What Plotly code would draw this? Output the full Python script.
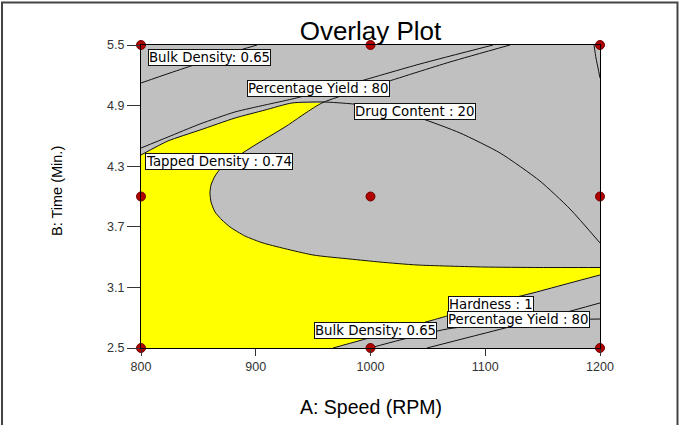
import plotly.graph_objects as go

# ---------------- data (A: Speed RPM, B: Time min) ----------------
design_A = [800, 800, 800, 1000, 1000, 1000, 1200, 1200, 1200]
design_B = [2.5, 4.0, 5.5, 2.5, 4.0, 5.5, 2.5, 4.0, 5.5]

# Drug Content : 20
dc_A = [800, 823.5, 851.4, 881.9, 908.1, 931.6, 958.6, 984.7, 1012.6, 1043.1, 1078.0, 1112.9, 1147.7, 1173.9, 1200]
dc_B = [4.411, 4.550, 4.658, 4.777, 4.856, 4.926, 4.936, 4.916, 4.866, 4.777, 4.629, 4.431, 4.153, 3.876, 3.540]

# Tapped Density : 0.74
td_A = [1121.6, 1069.3, 1008.3, 957.7, 925.5, 896.7, 870.6, 864.5, 861.0, 860.1, 861.0, 864.5, 870.6,
        877.6, 890.6, 906.3, 949.9, 982.1, 1008.3, 1040.5, 1098.0, 1147.7, 1200]
td_B = [5.5, 5.332, 5.114, 4.926, 4.688, 4.490, 4.292, 4.203, 4.114, 4.035, 3.946, 3.847, 3.767,
        3.698, 3.609, 3.540, 3.421, 3.381, 3.351, 3.322, 3.302, 3.297, 3.297]

# Percentage Yield : 80 (upper)
pyu_A = [800, 823.5, 851.4, 881.9, 908.1, 931.6, 982.1, 1043.1, 1106.8]
pyu_B = [4.480, 4.589, 4.718, 4.837, 4.906, 4.965, 5.114, 5.312, 5.5]

# Bulk Density : 0.65 (upper)
bdu_A = [800, 825.3, 851.4, 877.6, 901.1]
bdu_B = [5.124, 5.223, 5.322, 5.421, 5.5]

# Hardness : 1
hd_A = [967.3, 1008.3, 1060.6, 1112.9, 1141.6, 1173.9, 1200]
hd_B = [2.5, 2.629, 2.797, 2.965, 3.045, 3.144, 3.223]

# Hardness (upper-right branch)
hdu_A = [1194.8, 1196.5, 1198.3, 1200]
hdu_B = [5.5, 5.371, 5.272, 5.173]

# Bulk Density : 0.65 (lower)
bdl_A = [999.6, 1025.7, 1066.7, 1112.9, 1156.4, 1200]
bdl_B = [2.5, 2.579, 2.688, 2.748, 2.777, 2.787]

# Percentage Yield : 80 (lower)
pyl_A = [1049.2, 1086.7, 1127.7, 1165.1, 1200]
pyl_B = [2.5, 2.609, 2.728, 2.837, 2.946]

label_texts = ["Bulk Density: 0.65", "Percentage Yield : 80", "Drug Content : 20",
               "Tapped Density : 0.74", "Hardness : 1", "Percentage Yield : 80",
               "Bulk Density: 0.65"]

x_ticks = [800, 900, 1000, 1100, 1200]
y_ticks = [2.5, 3.1, 3.7, 4.3, 4.9, 5.5]

# ---------------- layout helpers (placement only) ----------------
label_pos = [(860.1, 5.373), (954.7, 5.069), (1039.2, 4.842), (868.4, 4.351),
             (1105.0, 2.931), (1129.0, 2.782), (1004.4, 2.678)]

# feasible (yellow) region built from the contour arrays
feas_A = [800] + dc_A[:6] + td_A[3:] + hd_A[::-1]
feas_B = [2.5] + dc_B[:6] + td_B[3:] + hd_B[::-1]

fig = go.Figure()
fig.add_trace(go.Scatter(x=feas_A, y=feas_B, fill="toself", fillcolor="#FFFF00",
                         mode="lines", line=dict(width=0), hoverinfo="skip", showlegend=False))

for xs, ys in [(dc_A, dc_B), (td_A, td_B), (pyu_A, pyu_B), (bdu_A, bdu_B), (hd_A, hd_B),
               (hdu_A, hdu_B), (bdl_A, bdl_B), (pyl_A, pyl_B)]:
    fig.add_trace(go.Scatter(x=xs, y=ys, mode="lines",
                             line=dict(color="#111111", width=1, shape="spline", smoothing=0.6),
                             hoverinfo="skip", showlegend=False))

fig.add_trace(go.Scatter(x=design_A, y=design_B, mode="markers", cliponaxis=False,
                         marker=dict(size=9, color="#B00000", line=dict(color="#700000", width=1)),
                         showlegend=False))

for t, (ax, ay) in zip(label_texts, label_pos):
    fig.add_annotation(x=ax, y=ay, text=t, showarrow=False, xanchor="center", yanchor="middle",
                       bgcolor="white", bordercolor="#111111", borderwidth=1, borderpad=0,
                       font=dict(family="DejaVu Sans", size=13.3, color="black"))

fig.update_layout(
    width=680, height=425,
    margin=dict(l=141, r=80, t=45, b=77),
    paper_bgcolor="white", plot_bgcolor="#C0C0C0",
    title=dict(text="Overlay Plot", x=0.5, xref="paper", y=1 - 31 / 425, yanchor="middle",
               font=dict(family="Liberation Sans", size=26, color="black")),
    font=dict(family="Liberation Sans"),
)
fig.update_xaxes(range=[800, 1200], tickvals=x_ticks, ticktext=[str(v) for v in x_ticks],
                 ticks="outside", ticklen=7, tickcolor="#333333", showgrid=False, zeroline=False,
                 showline=True, linecolor="black", linewidth=1, mirror=True,
                 tickfont=dict(family="Liberation Sans", size=12.5, color="#333333"))
fig.update_yaxes(range=[2.5, 5.5], tickvals=y_ticks, ticktext=[f"{v:.1f}" for v in y_ticks],
                 ticks="outside", ticklen=13, tickcolor="#333333", showgrid=False, zeroline=False,
                 showline=True, linecolor="black", linewidth=1, mirror=True,
                 tickfont=dict(family="Liberation Sans", size=12.5, color="#333333"))

fig.add_annotation(x=0.5, y=(348 - 407) / 303, xref="paper", yref="paper", text="A: Speed (RPM)",
                   showarrow=False, xanchor="center", yanchor="middle",
                   font=dict(family="Liberation Sans", size=19.5, color="black"))
fig.add_annotation(x=(57 - 141) / 459, y=(348 - 191) / 303, xref="paper", yref="paper",
                   text="B: Time (Min.)", textangle=-90, showarrow=False,
                   xanchor="center", yanchor="middle",
                   font=dict(family="Liberation Sans", size=14.5, color="black"))

fig.add_shape(type="rect", xref="paper", yref="paper",
              x0=(2 - 141) / 459, x1=(677.5 - 141) / 459, y0=(348 - 440) / 303, y1=(348 - 2.5) / 303,
              line=dict(color="#444444", width=2), fillcolor="rgba(0,0,0,0)", layer="below")

fig.write_html("out.html")
